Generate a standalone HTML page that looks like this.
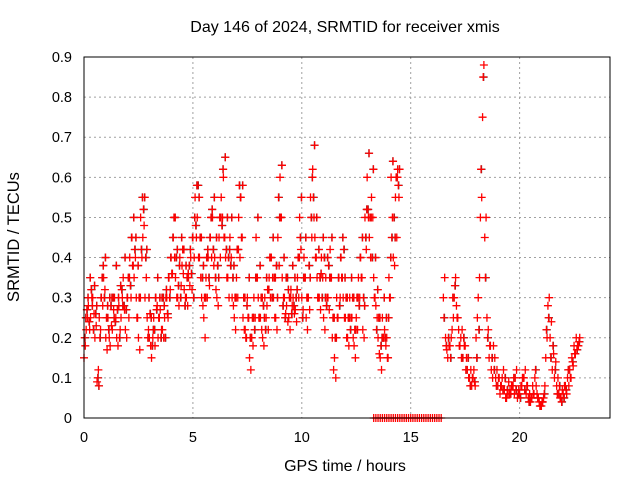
<!DOCTYPE html>
<html><head><meta charset="utf-8"><style>
html,body{margin:0;padding:0;background:#fff}
svg{display:block;font-family:"Liberation Sans",sans-serif}
</style></head><body>
<svg id="chart" width="640" height="480" viewBox="0 0 640 480">
<text x="345" y="32" font-size="16" text-anchor="middle">Day 146 of 2024, SRMTID for receiver xmis</text>
<text x="345" y="471" font-size="16" text-anchor="middle">GPS time / hours</text>
<text transform="translate(19,237) rotate(-90)" font-size="16.5" text-anchor="middle">SRMTID / TECUs</text>
<g id="grid"></g><g id="marks"></g><g id="axes"></g>
</svg>
<script>
const xTicks=[0,5,10,15,20];
const yTicks=[0,0.1,0.2,0.3,0.4,0.5,0.6,0.7,0.8,0.9];
const yTickLabels=["0","0.1","0.2","0.3","0.4","0.5","0.6","0.7","0.8","0.9"];
const seg1Start=0;
const seg1A=[0.15,0.22,0.28,0.25,0.3,0.2,0.09,0.25,0.3,0.35,0.2,0.25,0.18,0.22,0.3,0.2,0.28,0.25,0.35,0.22,0.3,0.4,0.45,0.35,0.3,0.2,0.5,0.45,0.3,0.25,0.2,0.15,0.25,0.3,0.2,0.27,0.22,0.25,0.3,0.35,0.4,0.45,0.35,0.3,0.4,0.38,0.32,0.3,0.35,0.4,0.45,0.55,0.5,0.4,0.3,0.25,0.35,0.4,0.45,0.5,0.4,0.3,0.45,0.55,0.6,0.4,0.35,0.45,0.3,0.25,0.35,0.5,0.55,0.25,0.22,0.3,0.15,0.2,0.3,0.45,0.3,0.25,0.2,0.3,0.28,0.35,0.4,0.3,0.25,0.45,0.6,0.35,0.3,0.28,0.25,0.32,0.3,0.27,0.35,0.5,0.3,0.4,0.25,0.3,0.55,0.62,0.45,0.35,0.3,0.4,0.25,0.35,0.3,0.42,0.2,0.15,0.3,0.35,0.4,0.3,0.25,0.2,0.3,0.25,0.18,0.25,0.35,0.4,0.22,0.5,0.6,0.45,0.55,0.35,0.28,0.2,0.15,0.25,0.22,0.2,0.35,0.6,0.4,0.55,0.62];
const seg1B=[0.2,0.27,0.24,0.32,0.22,0.26,0.1,0.2,0.35,0.3,0.25,0.22,0.28,0.3,0.24,0.27,0.2,0.32,0.28,0.27,0.35,0.33,0.38,0.42,0.25,0.3,0.42,0.52,0.4,0.2,0.26,0.18,0.22,0.27,0.25,0.2,0.3,0.2,0.26,0.3,0.36,0.5,0.4,0.33,0.3,0.42,0.28,0.35,0.38,0.36,0.3,0.48,0.58,0.45,0.35,0.3,0.4,0.35,0.5,0.42,0.35,0.38,0.5,0.48,0.45,0.42,0.4,0.38,0.35,0.3,0.42,0.58,0.45,0.3,0.2,0.25,0.2,0.25,0.22,0.35,0.25,0.3,0.28,0.22,0.32,0.4,0.3,0.35,0.38,0.55,0.5,0.28,0.25,0.35,0.3,0.26,0.28,0.3,0.4,0.45,0.25,0.35,0.3,0.38,0.5,0.55,0.4,0.3,0.35,0.3,0.4,0.28,0.38,0.35,0.25,0.2,0.25,0.28,0.35,0.42,0.3,0.25,0.22,0.3,0.22,0.3,0.28,0.35,0.3,0.45,0.52,0.5,0.4,0.3,0.22,0.25,0.18,0.2,0.2,0.15,0.3,0.45,0.5,0.6,0.58];
const seg1C=[0.18,0.25,0.22,0.3,0.26,0.23,0.12,0.22,0.28,0.32,0.17,0.2,0.23,0.27,0.25,0.18,0.22,0.3,0.27,0.2,0.25,0.3,0.38,0.4,0.25,0.17,0.4,0.48,0.35,0.22,0.18,0.2,0.18,0.28,0.25,0.22,0.2,0.3,0.25,0.32,0.36,0.4,0.3,0.28,0.33,0.36,0.3,0.28,0.33,0.32,0.4,0.45,0.4,0.35,0.28,0.2,0.3,0.33,0.4,0.38,0.32,0.28,0.4,0.5,0.45,0.35,0.3,0.4,0.28,0.22,0.3,0.4,0.45,0.22,0.2,0.25,0.12,0.18,0.25,0.35,0.25,0.22,0.18,0.25,0.22,0.3,0.35,0.25,0.22,0.38,0.5,0.3,0.26,0.24,0.22,0.28,0.26,0.24,0.3,0.42,0.27,0.35,0.22,0.27,0.45,0.5,0.4,0.3,0.27,0.35,0.22,0.3,0.27,0.35,0.12,0.1,0.25,0.3,0.35,0.25,0.2,0.18,0.25,0.2,0.15,0.22,0.3,0.35,0.2,0.42,0.5,0.4,0.5,0.3,0.25,0.16,0.12,0.2,0.18,0.15,0.3,0.5,0.38,0.45,0.55];
const seg1D=[0.25,0.3,0.35,0.28,0.33,0.28,0.08,0.3,0.38,0.4,0.28,0.3,0.3,0.25,0.38,0.3,0.33,0.28,0.4,0.3,0.35,0.45,0.5,0.45,0.38,0.3,0.55,0.55,0.42,0.3,0.25,0.22,0.3,0.35,0.3,0.3,0.28,0.32,0.35,0.4,0.45,0.5,0.42,0.38,0.45,0.42,0.38,0.36,0.42,0.45,0.5,0.58,0.55,0.45,0.38,0.3,0.42,0.45,0.52,0.55,0.45,0.35,0.5,0.62,0.65,0.5,0.42,0.5,0.38,0.3,0.42,0.55,0.58,0.3,0.28,0.35,0.2,0.25,0.35,0.5,0.38,0.3,0.25,0.35,0.32,0.4,0.45,0.35,0.3,0.5,0.63,0.4,0.35,0.32,0.3,0.38,0.35,0.32,0.4,0.55,0.35,0.45,0.3,0.35,0.6,0.68,0.5,0.42,0.36,0.45,0.3,0.4,0.35,0.45,0.25,0.2,0.35,0.4,0.45,0.35,0.3,0.25,0.35,0.3,0.22,0.3,0.4,0.45,0.28,0.52,0.66,0.5,0.62,0.4,0.32,0.25,0.2,0.3,0.25,0.25,0.4,0.64,0.45,0.6,0.62];
const seg2Start=16.5;
const seg2A=[0.3,0.2,0.15,0.18,0.22,0.3,0.28,0.22,0.2,0.15,0.18,0.12,0.1,0.08,0.12,0.2,0.3,0.5,0.75,0.45,0.25,0.15,0.12,0.18,0.1,0.08,0.06,0.1,0.07,0.05,0.09,0.06,0.08,0.1,0.05,0.06,0.08,0.1,0.06,0.05,0.04,0.08,0.1,0.06,0.04,0.03,0.05,0.15,0.28,0.2,0.12,0.1,0.08,0.06,0.05,0.06,0.08,0.1,0.12,0.15,0.18,0.2,0.18];
const seg2B=[0.25,0.18,0.2,0.15,0.3,0.33,0.25,0.18,0.15,0.2,0.12,0.15,0.08,0.1,0.09,0.15,0.22,0.62,0.85,0.35,0.2,0.18,0.15,0.12,0.08,0.1,0.08,0.07,0.1,0.07,0.06,0.08,0.1,0.07,0.06,0.05,0.1,0.07,0.08,0.04,0.05,0.06,0.12,0.05,0.03,0.04,0.06,0.22,0.25,0.15,0.18,0.12,0.06,0.08,0.04,0.05,0.07,0.12,0.1,0.14,0.16,0.17,0.19];
const seg2C=[0.35,0.17,0.18,0.2,0.25,0.35,0.25,0.18,0.22,0.18,0.15,0.1,0.12,0.1,0.08,0.25,0.35,0.55,0.88,0.5,0.22,0.18,0.1,0.15,0.12,0.1,0.08,0.12,0.05,0.06,0.07,0.08,0.06,0.12,0.07,0.08,0.1,0.12,0.08,0.06,0.05,0.06,0.08,0.05,0.03,0.04,0.08,0.2,0.3,0.24,0.16,0.14,0.1,0.05,0.07,0.08,0.06,0.08,0.1,0.13,0.16,0.18,0.2];
const zeroStart=13.3, zeroEnd=16.4;
const L=84,R=610,T=57,B=418,XMAX=24.15,YMAX=0.9;
const xs=v=>L+(R-L)*v/XMAX, ys=v=>B-(B-T)*v/YMAX;
const NS="http://www.w3.org/2000/svg";
function mk(tag,attrs,parent){const e=document.createElementNS(NS,tag);for(const k in attrs)e.setAttribute(k,attrs[k]);parent.appendChild(e);return e;}
const grid=document.getElementById('grid'),marks=document.getElementById('marks'),axes=document.getElementById('axes');
xTicks.forEach(t=>{const l=mk('line',{x1:xs(t),x2:xs(t),y1:T,y2:B,stroke:'#a0a0a0','stroke-dasharray':'2,3'},grid);


const tx=mk('text',{x:xs(t),y:B+24,'font-size':14.5,'text-anchor':'middle'},axes);tx.textContent=t;

});
yTicks.forEach((t,i)=>{if(i>0&&i<yTicks.length-1){const l=mk('line',{x1:L,x2:R,y1:ys(t),y2:ys(t),stroke:'#a0a0a0','stroke-dasharray':'2,3'},grid);

}
const tx=mk('text',{x:L-12,y:ys(t)+5,'font-size':14.5,'text-anchor':'end'},axes);tx.textContent=yTickLabels[i];

});
const box=mk('rect',{x:L,y:T,width:R-L,height:B-T,fill:'none',stroke:'#000','stroke-width':1},axes);


function cross(x,y,c){const p=mk('path',{d:`M${x-4},${y}h8M${x},${y-4}v8`,stroke:c,'stroke-width':1.3,fill:'none'},marks);

}
function plotSeg(start,arr,c,off){arr.forEach((v,i)=>{const t=start+i*0.1+off;cross(xs(t),ys(v),c);});}
plotSeg(seg1Start,seg1B,'#444',0.05);plotSeg(seg1Start,seg1D,'#444',0.08);plotSeg(seg2Start,seg2B,'#444',0.05);
plotSeg(seg1Start,seg1A,'#f00',0);plotSeg(seg1Start,seg1B,'#f00',0.03);
plotSeg(seg1Start,seg1C,'#f00',0.06);plotSeg(seg1Start,seg1D,'#f00',0.09);
plotSeg(seg2Start,seg2A,'#f00',0);plotSeg(seg2Start,seg2B,'#f00',0.03);plotSeg(seg2Start,seg2C,'#f00',0.06);
for(let t=zeroStart;t<=zeroEnd;t+=0.1)cross(xs(t),ys(0),'#f00');
</script>
</body></html>
